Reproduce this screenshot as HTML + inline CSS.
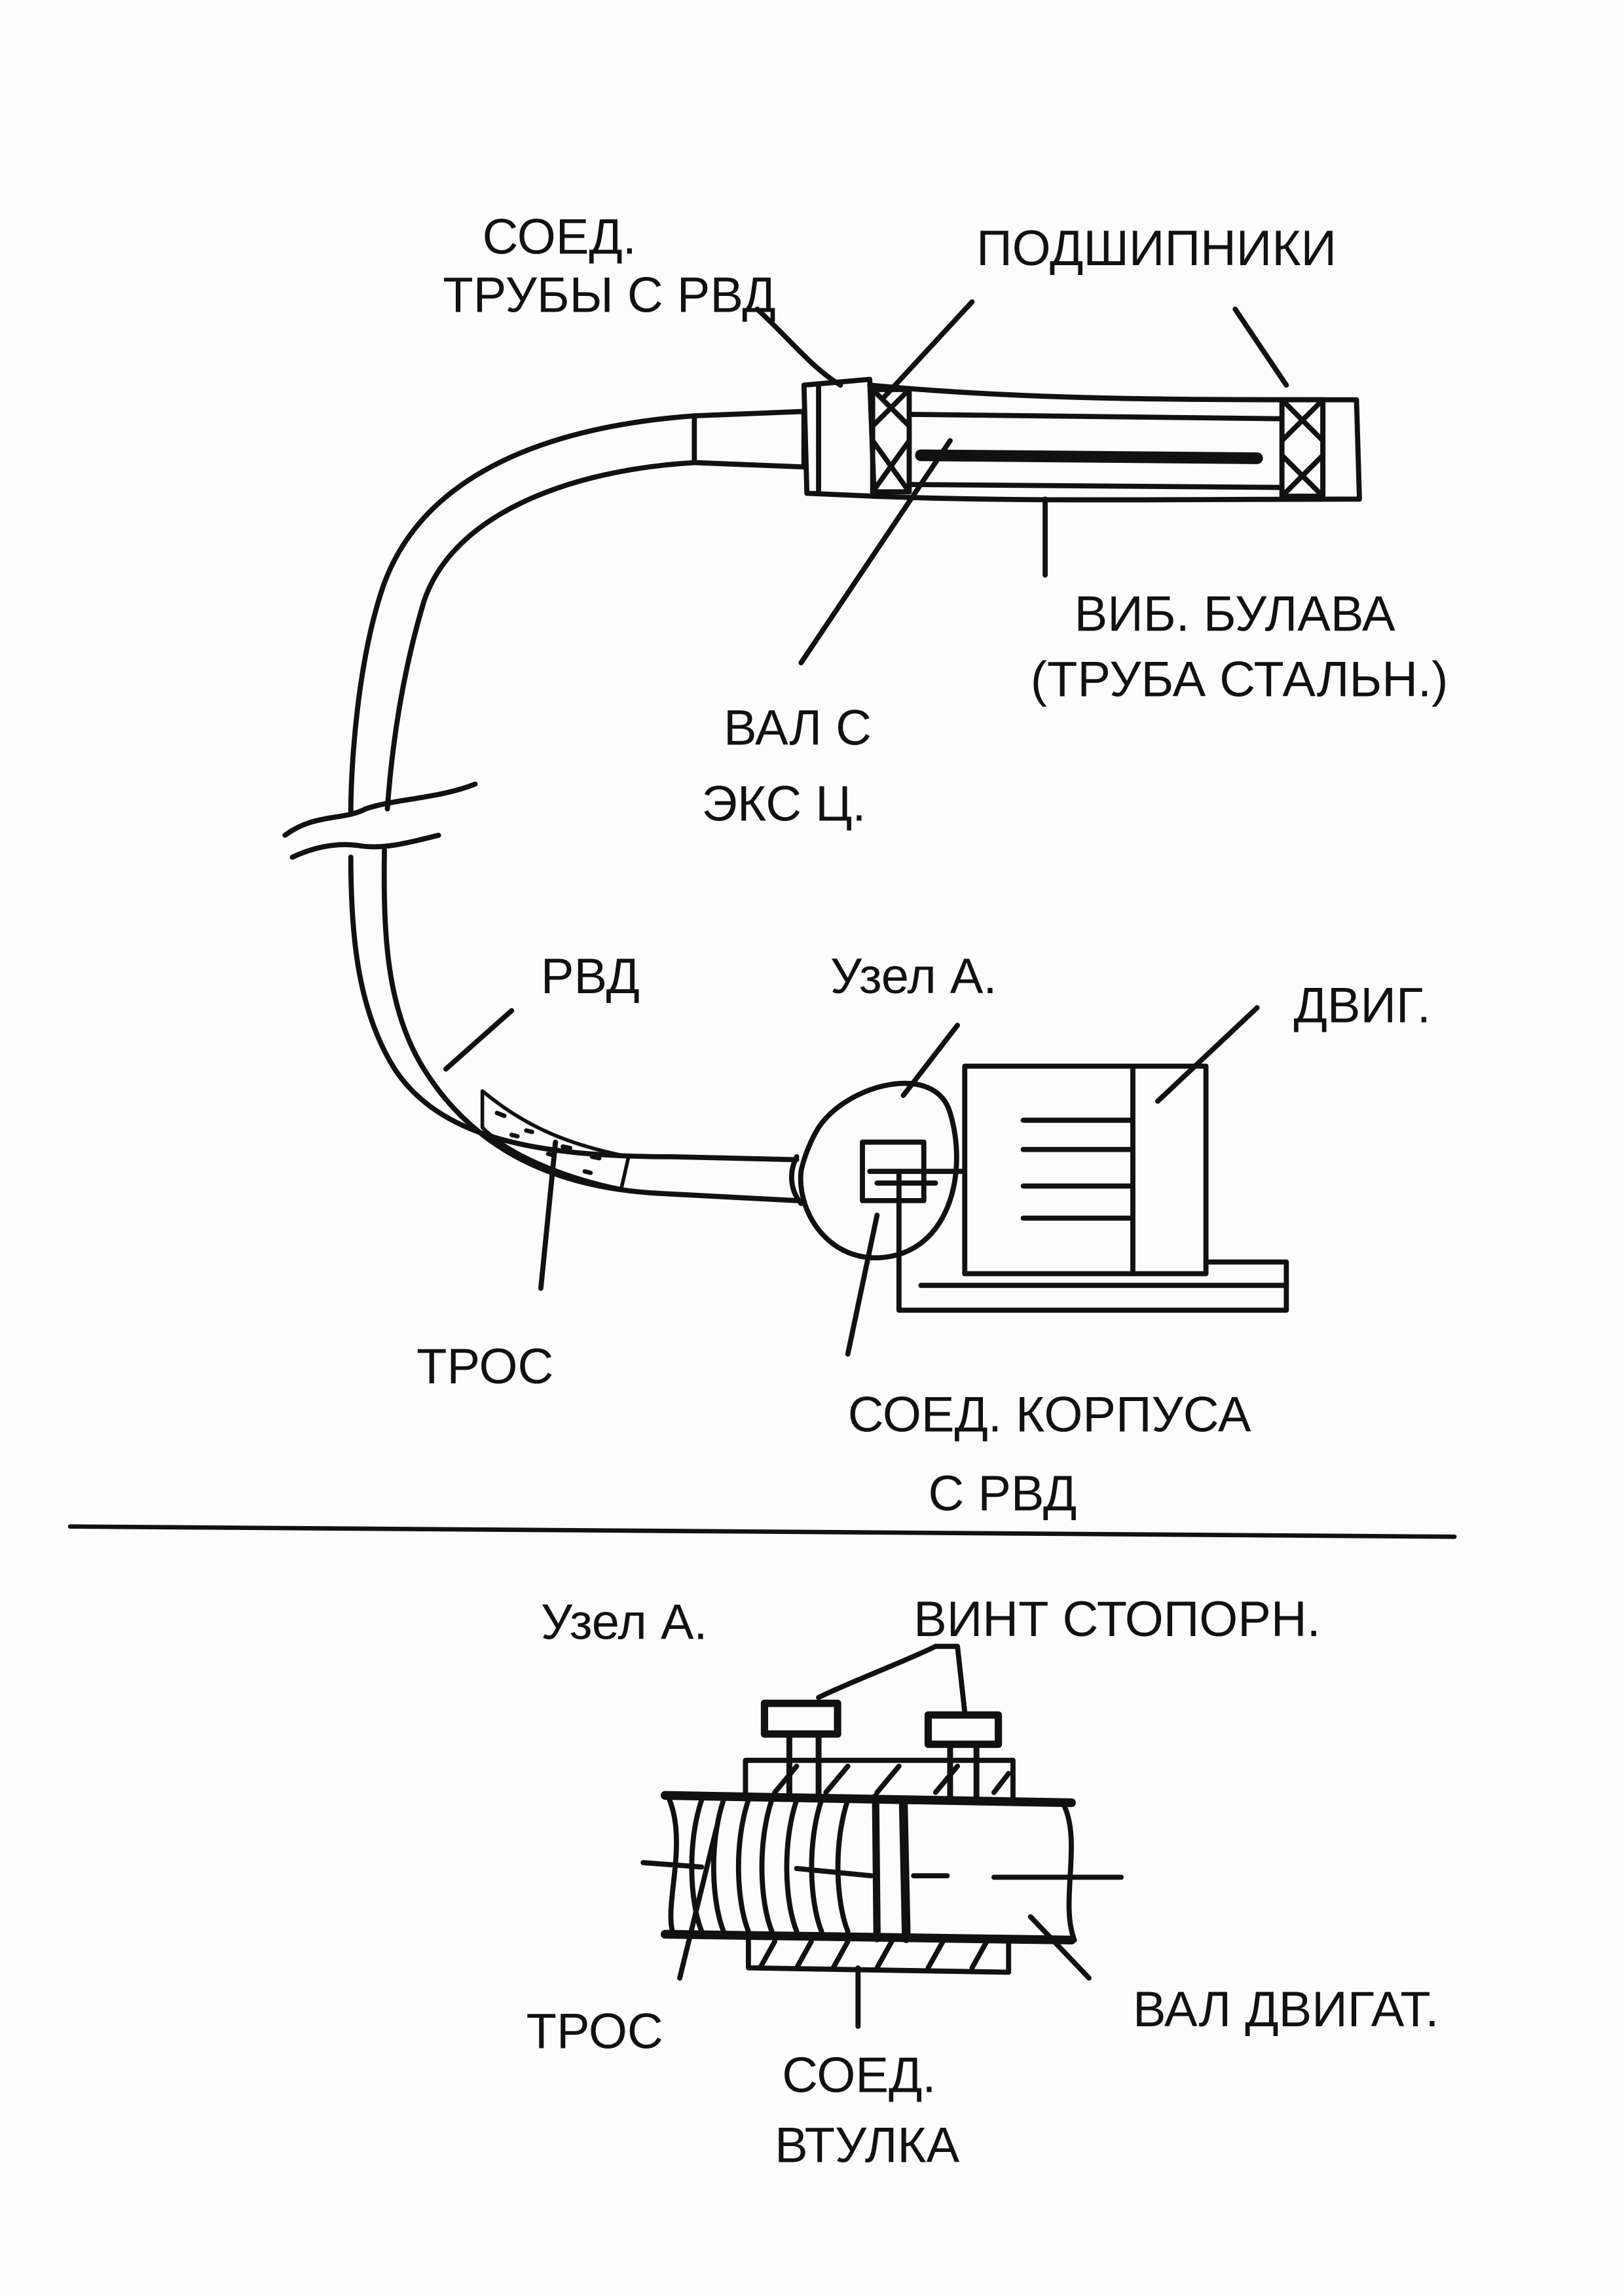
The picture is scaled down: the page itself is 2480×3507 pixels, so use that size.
<!DOCTYPE html>
<html><head><meta charset="utf-8"><style>
html,body{margin:0;padding:0;background:#fcfcfc}
svg{display:block}
text{font-family:"Liberation Sans",sans-serif;fill:#111;font-size:34px}
</style></head><body>
<svg width="2480" height="3507" viewBox="0 0 1111 1568" xmlns="http://www.w3.org/2000/svg">
<rect width="1111" height="1568" fill="#fcfcfc"/>
<g fill="none" stroke="#111" stroke-width="3.5" stroke-linecap="round" stroke-linejoin="round">
<path d="M475,283 C380,290 290,320 262,400 C245,450 240,520 240,555"/>
<path d="M240,585 C240,640 245,690 270,730 C300,775 360,790 460,790 L545,792"/>
<path d="M475,315 C390,320 310,350 290,410 C275,460 268,510 265,552"/>
<path d="M263,580 C262,640 265,690 290,730 C315,770 360,810 450,815 L545,820"/>
<path d="M195,570 C215,555 235,560 250,552 C270,545 300,545 325,535"/>
<path d="M200,585 C215,578 230,575 245,577 C262,580 280,575 300,570"/>
<path d="M475,283 L550,280 L550,318 L475,315 Z"/>
<path d="M550,262 L595,258 L598,338 L552,336 Z"/>
<path d="M560,262 L560,336"/>
<path d="M595,262 C700,272 800,272 928,272 L930,340 C800,340 700,342 598,338"/>
<path d="M622,282 L877,285 M622,330 L877,332"/>
<path d="M630,310 L860,312" stroke-width="8"/>
<rect x="597" y="265" width="25" height="70"/>
<path d="M597,265 L622,290 M622,265 L597,290 M597,300 L622,335 M622,300 L597,335"/>
<rect x="877" y="272" width="28" height="66"/>
<path d="M877,272 L905,300 M905,272 L877,300 M877,310 L905,338 M905,310 L877,338"/>
<path d="M905,272 L905,338"/>
<path d="M518,210 C540,230 555,250 575,262"/>
<path d="M665,205 L605,270"/>
<path d="M845,210 L880,262"/>
<path d="M715,340 L715,392"/>
<path d="M650,300 L548,452"/>
<path d="M545,790 C540,800 540,812 548,822"/>
<path d="M560,770 C580,740 640,725 650,760 C662,800 650,850 610,858 C570,866 545,830 548,800 C550,790 555,778 560,770 Z"/>
<rect x="590" y="780" width="42" height="40"/>
<path d="M595,800 L660,800 M600,808 L640,808"/>
<path d="M618,748 L655,700"/>
<path d="M600,830 L580,925"/>
<rect x="660" y="728" width="165" height="142"/>
<path d="M775,730 L775,868 M700,765 L775,765 M700,785 L775,785 M700,810 L775,810 M700,832 L775,832"/>
<path d="M615,800 L615,895 L880,895 L880,862 L825,862"/>
<path d="M630,878 L880,878"/>
<path d="M792,752 L860,688"/>
<path d="M350,690 L305,730"/>
<path d="M330,745 C360,770 390,782 430,790 L425,812 C390,805 350,790 330,770 Z" stroke-width="2.5"/>
<path d="M340,760 L345,762 M360,772 L364,773 M385,783 L390,784 M405,790 L410,791 M350,775 L354,776 M375,788 L379,789 M400,800 L404,801" stroke-width="3"/>
<path d="M380,780 L370,880"/>
<path d="M48,1043 L995,1050" stroke-width="3"/>
<path d="M455,1227 L733,1232 M455,1322 L733,1326" stroke-width="6"/>
<path d="M458,1230 C470,1260 455,1300 460,1320"/>
<path d="M728,1234 C740,1260 725,1300 735,1326"/>
<path d="M510,1225 L510,1203 L693,1203 L693,1230"/>
<path d="M512,1325 L512,1345 L690,1348 L690,1326"/>
<path d="M599,1228 L600,1325" stroke-width="5"/>
<path d="M618,1233 L620,1325" stroke-width="6"/>
<path d="M480,1230 C470,1260 472,1300 480,1320 M495,1230 C485,1260 487,1300 495,1320 M512,1230 C502,1260 504,1300 512,1320 M528,1230 C518,1260 520,1300 528,1320 M545,1230 C535,1260 537,1300 545,1320 M562,1230 C552,1260 554,1300 562,1320 M580,1230 C570,1260 572,1300 580,1320"/>
<path d="M440,1273 L480,1276 M545,1277 L596,1282 M625,1282 L648,1282 M680,1283 L767,1283"/>
<path d="M530,1225 L545,1207 M565,1225 L580,1207 M600,1225 L615,1207 M640,1225 L655,1207 M680,1225 L690,1212 M520,1345 L530,1327 M545,1345 L555,1327 M570,1345 L580,1327 M600,1345 L610,1327 M635,1345 L645,1327 M665,1345 L675,1327"/>
<path d="M523,1164 L573,1164 L573,1185 L523,1185 Z" stroke-width="5"/>
<path d="M540,1185 L540,1228 M560,1185 L560,1228" stroke-width="4"/>
<path d="M635,1172 L683,1172 L683,1192 L635,1192 Z" stroke-width="5"/>
<path d="M650,1192 L650,1228 M668,1192 L668,1228" stroke-width="4"/>
<path d="M560,1160 C580,1150 620,1135 640,1125 L655,1125 L660,1170"/>
<path d="M490,1250 L465,1352"/>
<path d="M587,1345 L587,1385"/>
<path d="M705,1310 L745,1352"/>
</g>
<text x="330" y="172">СОЕД.</text>
<text x="303" y="212">ТРУБЫ С РВД</text>
<text x="668" y="180">ПОДШИПНИКИ</text>
<text x="735" y="430">ВИБ. БУЛАВА</text>
<text x="705" y="475">(ТРУБА СТАЛЬН.)</text>
<text x="495" y="508">ВАЛ С</text>
<text x="480" y="560" font-size="28">ЭКС Ц.</text>
<text x="370" y="678" font-size="40">РВД</text>
<text x="568" y="678" font-size="30">Узел А.</text>
<text x="885" y="698" font-size="38">ДВИГ.</text>
<text x="285" y="945" font-size="40">ТРОС</text>
<text x="580" y="978">СОЕД. КОРПУСА</text>
<text x="635" y="1032">С РВД</text>
<text x="370" y="1120" font-size="34">Узел А.</text>
<text x="625" y="1118" font-size="30">ВИНТ СТОПОРН.</text>
<text x="360" y="1400" font-size="32">ТРОС</text>
<text x="775" y="1385" font-size="32">ВАЛ ДВИГАТ.</text>
<text x="535" y="1430" font-size="34">СОЕД.</text>
<text x="530" y="1478" font-size="34">ВТУЛКА</text>
</svg>
</body></html>
